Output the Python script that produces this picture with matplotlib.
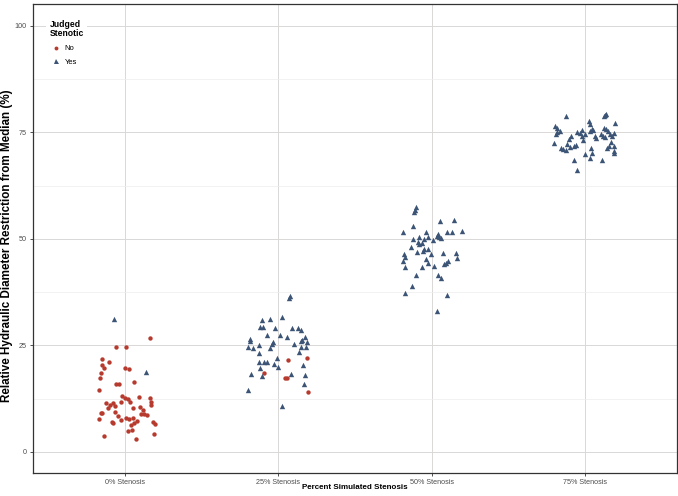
import matplotlib
matplotlib.use("Agg")
import matplotlib.pyplot as plt
from matplotlib.lines import Line2D

categories = ["0% Stenosis", "25% Stenosis", "50% Stenosis", "75% Stenosis"]

# "No" points: category index, horizontal jitter, value
no_cat = [0] * 56 + [1] * 6
no_jit = [0.161, -0.058, 0.005, -0.154, -0.104, -0.137, -0.004, 0.022, -0.159, -0.163,
          -0.058, 0.055, -0.169, -0.022, 0.000, 0.020, 0.029, 0.161, 0.168, 0.170,
          -0.124, -0.100, -0.078, -0.069, -0.026, 0.094, 0.050, 0.116, 0.105, 0.125,
          -0.159, -0.150, -0.067, -0.045, -0.172, 0.007, 0.027, 0.053, 0.076, -0.024,
          -0.089, -0.076, 0.060, 0.035, 0.181, 0.194, 0.044, 0.016, 0.186, -0.137,
          0.073, -0.150, -0.040, 0.090, -0.110, 0.140,
          0.065, 0.190, -0.093, 0.041, 0.057, 0.194]
no_val = [26.7, 24.5, 24.7, 21.8, 21.2, 19.6, 19.6, 19.5, 18.5, 17.3,
          16.0, 16.5, 14.5, 13.0, 12.6, 12.3, 11.8, 12.6, 11.8, 11.1,
          11.4, 10.9, 11.5, 10.7, 11.7, 10.6, 10.4, 9.8, 9.0, 9.0,
          9.1, 9.1, 9.4, 8.4, 7.7, 7.9, 7.7, 8.0, 7.3, 7.4,
          6.9, 6.7, 6.7, 6.2, 6.9, 6.6, 5.2, 4.8, 4.2, 3.8,
          3.0, 20.5, 15.9, 12.9, 10.2, 8.6,
          21.5, 22.0, 18.5, 17.4, 17.4, 14.1]

# "Yes" points
yes_cat = [0] * 2 + [1] * 46 + [2] * 50 + [3] * 55
yes_jit = [-0.074, 0.138,
           0.076, 0.070, 0.022, -0.109, -0.057, -0.122, -0.098, -0.024, 0.092, 0.129,
           0.150, -0.072, 0.013, 0.054, 0.176, -0.185, -0.185, -0.035, -0.039, 0.146,
           0.157, 0.185, 0.100, -0.129, -0.196, -0.165, -0.052, 0.146, 0.178, -0.129,
           0.135, -0.008, -0.129, -0.092, -0.076, -0.026, 0.000, -0.118, 0.159, -0.176,
           -0.109, 0.083, 0.174, 0.168, -0.196, 0.022,
           -0.100, -0.111, -0.115, 0.057, 0.148, -0.120, -0.185, -0.035, 0.103, 0.131,
           0.198, 0.039, 0.035, 0.048, 0.059, -0.080, -0.020, -0.120, -0.046, 0.008,
           -0.087, -0.063, -0.080, -0.131, -0.024, -0.046, -0.057, -0.098, -0.002, 0.074,
           0.157, -0.180, -0.176, 0.163, -0.188, -0.037, -0.022, 0.109, 0.093, 0.080,
           0.015, -0.059, -0.170, -0.100, 0.039, 0.065, -0.126, -0.176, 0.100, 0.035,
           -0.124, 0.142, 0.133, 0.124, 0.198, 0.031, 0.033, -0.193, -0.182, -0.163,
           -0.178, -0.185, 0.126, 0.137, 0.152, 0.046, 0.035, 0.052, -0.018, -0.052,
           -0.031, 0.002, -0.087, -0.020, 0.070, 0.105, 0.120, 0.131, 0.166, 0.188,
           0.176, -0.100, -0.011, 0.072, -0.198, -0.113, -0.059, 0.172, -0.157, -0.144,
           -0.120, -0.093, -0.067, 0.005, 0.041, 0.146, 0.161, 0.194, 0.188, 0.190,
           0.046, 0.037, -0.070, 0.113, -0.050]
yes_val = [31.1, 18.7,
           36.5, 36.0, 31.7, 31.0, 31.1, 29.3, 29.3, 29.0, 29.1, 29.1,
           28.6, 27.4, 27.5, 26.9, 26.9, 26.4, 26.0, 25.7, 25.2, 26.0,
           26.2, 25.8, 25.3, 25.1, 24.6, 24.4, 24.4, 24.5, 24.7, 23.3,
           23.4, 22.0, 21.0, 21.0, 21.1, 20.6, 19.9, 19.7, 20.4, 18.3,
           17.9, 18.3, 18.1, 15.9, 14.6, 10.8,
           57.5, 56.7, 56.4, 54.3, 54.4, 52.9, 51.7, 51.7, 51.5, 51.5,
           51.8, 51.2, 50.7, 50.4, 50.3, 50.5, 50.5, 50.0, 49.9, 49.8,
           49.3, 49.0, 48.7, 48.0, 47.7, 47.5, 47.1, 46.9, 46.4, 46.6,
           46.7, 46.5, 45.7, 45.6, 44.9, 45.2, 44.4, 44.7, 44.3, 44.0,
           43.7, 43.5, 43.5, 41.5, 41.5, 40.7, 39.0, 37.2, 36.8, 33.1,
           78.8, 79.4, 79.1, 78.8, 77.1, 77.7, 77.0, 76.4, 75.9, 75.4,
           75.1, 74.6, 76.1, 75.8, 75.4, 75.8, 75.3, 75.5, 75.5, 75.0,
           74.9, 74.5, 74.2, 74.1, 74.2, 74.6, 74.2, 74.0, 74.7, 74.9,
           74.1, 73.4, 73.3, 73.6, 72.5, 72.3, 72.0, 72.8, 71.4, 71.1,
           70.9, 71.5, 71.7, 70.0, 71.2, 71.2, 71.8, 71.7, 70.6, 70.2,
           70.2, 68.9, 68.5, 68.4, 66.1]

red = "#B73A2E"
blue = "#3C5476"
plt.rcParams["font.family"] = ["Liberation Sans", "DejaVu Sans"]

fig = plt.figure(figsize=(6.78, 4.96), dpi=100)
ax = fig.add_axes([0.049, 0.046, 0.949, 0.945])

ax.scatter([c + j for c, j in zip(no_cat, no_jit)], no_val, marker="o", s=10,
           color=red, linewidths=0, zorder=3)
ax.scatter([c + j for c, j in zip(yes_cat, yes_jit)], yes_val, marker="^", s=15,
           color=blue, linewidths=0, zorder=3)

ax.set_xlim(-0.6, 3.6)
ax.set_ylim(-5, 105)
ax.set_xticks(range(len(categories)))
ax.set_xticklabels(categories)
ax.set_yticks([0, 25, 50, 75, 100])
ax.set_yticks([12.5, 37.5, 62.5, 87.5], minor=True)
ax.grid(which="major", color="#DAD7D7", lw=0.7, zorder=0)
ax.grid(which="minor", axis="y", color="#EFEDED", lw=0.5, zorder=0)
ax.set_axisbelow(True)
ax.tick_params(which="major", labelsize=5.2, colors="#333333", labelcolor="#4D4D4D",
               length=2.5, width=0.6, pad=2)
ax.tick_params(which="minor", length=0)
for s in ax.spines.values():
    s.set_color("#333333")
    s.set_linewidth(0.9)

ax.set_xlabel("Percent Simulated Stenosis", fontsize=5.8, fontweight="bold")
ax.xaxis.set_label_coords(0.5, -0.024)
ax.set_ylabel("Relative Hydraulic Diameter Restriction from Median (%)", fontsize=8.4,
              fontweight="bold")
ax.yaxis.set_label_coords(-0.031, 0.485)

handles = [Line2D([], [], ls="", marker="o", ms=2.8, color=red, mew=0),
           Line2D([], [], ls="", marker="^", ms=3.6, color=blue, mew=0)]
leg = ax.legend(handles, ["No", "Yes"], title="Judged\nStenotic", loc="upper left",
                bbox_to_anchor=(0.014, 0.983), frameon=True, fontsize=5.5,
                title_fontsize=6.2, handlelength=1.8, handletextpad=0.2,
                labelspacing=0.85, borderpad=0.45)
leg.get_frame().set_edgecolor("none")
leg.get_frame().set_facecolor("white")
leg.get_frame().set_alpha(1)
leg.get_title().set_fontweight("bold")
leg.get_title().set_linespacing(1.1)
leg._legend_box.align = "left"

fig.savefig("out.png", dpi=100)
